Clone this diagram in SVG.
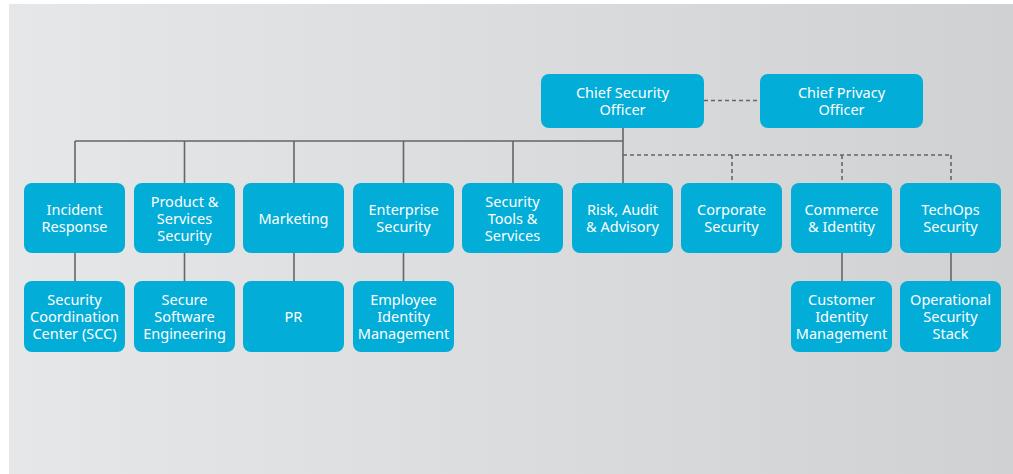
<svg xmlns="http://www.w3.org/2000/svg" width="1013" height="474" viewBox="0 0 1013 474">
<defs>
<linearGradient id="bg" x1="0" y1="0" x2="1" y2="0">
<stop offset="0" stop-color="#e6e7e9"/>
<stop offset="1" stop-color="#d0d1d3"/>
</linearGradient>
</defs>
<style>
.box{fill:#02add8}
.t{fill:#fff;font-family:"Noto Sans","Open Sans",sans-serif;font-size:14.5px;text-anchor:middle}
.s{stroke:#666;stroke-width:1.6;fill:none}
.d{stroke:#666;stroke-width:1.6;fill:none;stroke-dasharray:4 3}
</style>
<rect x="0" y="0" width="1013" height="474" fill="#fff"/>
<rect x="9" y="4" width="1004" height="470" fill="url(#bg)"/>
<g id="connectors">
<path class="s" d="M623 128V183M75 141H623M75 141V183M184.5 141V183M294 141V183M403.5 141V183M513 141V183"/>
<path class="d" d="M704 100.5H760M623 155H951M732 155V183M842 155V183M951 155V183"/>
<path class="s" d="M75 253V281M184.5 253V281M294 253V281M403.5 253V281M842 253V281M951 253V281"/>
</g>
<g id="cso"><rect class="box" x="541" y="74" width="163" height="54" rx="8"/><text class="t" x="622.5" y="98">Chief Security</text><text class="t" x="622.5" y="115">Officer</text></g>
<g id="cpo"><rect class="box" x="760" y="74" width="163" height="54" rx="8"/><text class="t" x="841.5" y="98">Chief Privacy</text><text class="t" x="841.5" y="115">Officer</text></g>
<g id="incident"><rect class="box" x="24" y="183" width="101" height="70" rx="8"/><text class="t" x="74.5" y="215">Incident</text><text class="t" x="74.5" y="232">Response</text></g>
<g id="product"><rect class="box" x="134" y="183" width="101" height="70" rx="8"/><text class="t" x="184.5" y="206.5">Product &amp;</text><text class="t" x="184.5" y="223.5">Services</text><text class="t" x="184.5" y="240.5">Security</text></g>
<g id="marketing"><rect class="box" x="243" y="183" width="101" height="70" rx="8"/><text class="t" x="293.5" y="223.5">Marketing</text></g>
<g id="enterprise"><rect class="box" x="353" y="183" width="101" height="70" rx="8"/><text class="t" x="403.5" y="215">Enterprise</text><text class="t" x="403.5" y="232">Security</text></g>
<g id="tools"><rect class="box" x="462" y="183" width="101" height="70" rx="8"/><text class="t" x="512.5" y="206.5">Security</text><text class="t" x="512.5" y="223.5">Tools &amp;</text><text class="t" x="512.5" y="240.5">Services</text></g>
<g id="risk"><rect class="box" x="572" y="183" width="101" height="70" rx="8"/><text class="t" x="622.5" y="215">Risk, Audit</text><text class="t" x="622.5" y="232">&amp; Advisory</text></g>
<g id="corporate"><rect class="box" x="681" y="183" width="101" height="70" rx="8"/><text class="t" x="731.5" y="215">Corporate</text><text class="t" x="731.5" y="232">Security</text></g>
<g id="commerce"><rect class="box" x="791" y="183" width="101" height="70" rx="8"/><text class="t" x="841.5" y="215">Commerce</text><text class="t" x="841.5" y="232">&amp; Identity</text></g>
<g id="techops"><rect class="box" x="900" y="183" width="101" height="70" rx="8"/><text class="t" x="950.5" y="215">TechOps</text><text class="t" x="950.5" y="232">Security</text></g>
<g id="scc"><rect class="box" x="24" y="281" width="101" height="71" rx="8"/><text class="t" x="74.5" y="305">Security</text><text class="t" x="74.5" y="322">Coordination</text><text class="t" x="74.5" y="339">Center (SCC)</text></g>
<g id="sse"><rect class="box" x="134" y="281" width="101" height="71" rx="8"/><text class="t" x="184.5" y="305">Secure</text><text class="t" x="184.5" y="322">Software</text><text class="t" x="184.5" y="339">Engineering</text></g>
<g id="pr"><rect class="box" x="243" y="281" width="101" height="71" rx="8"/><text class="t" x="293.5" y="322">PR</text></g>
<g id="eim"><rect class="box" x="353" y="281" width="101" height="71" rx="8"/><text class="t" x="403.5" y="305">Employee</text><text class="t" x="403.5" y="322">Identity</text><text class="t" x="403.5" y="339">Management</text></g>
<g id="cim"><rect class="box" x="791" y="281" width="101" height="71" rx="8"/><text class="t" x="841.5" y="305">Customer</text><text class="t" x="841.5" y="322">Identity</text><text class="t" x="841.5" y="339">Management</text></g>
<g id="oss"><rect class="box" x="900" y="281" width="101" height="71" rx="8"/><text class="t" x="950.5" y="305">Operational</text><text class="t" x="950.5" y="322">Security</text><text class="t" x="950.5" y="339">Stack</text></g>
</svg>
